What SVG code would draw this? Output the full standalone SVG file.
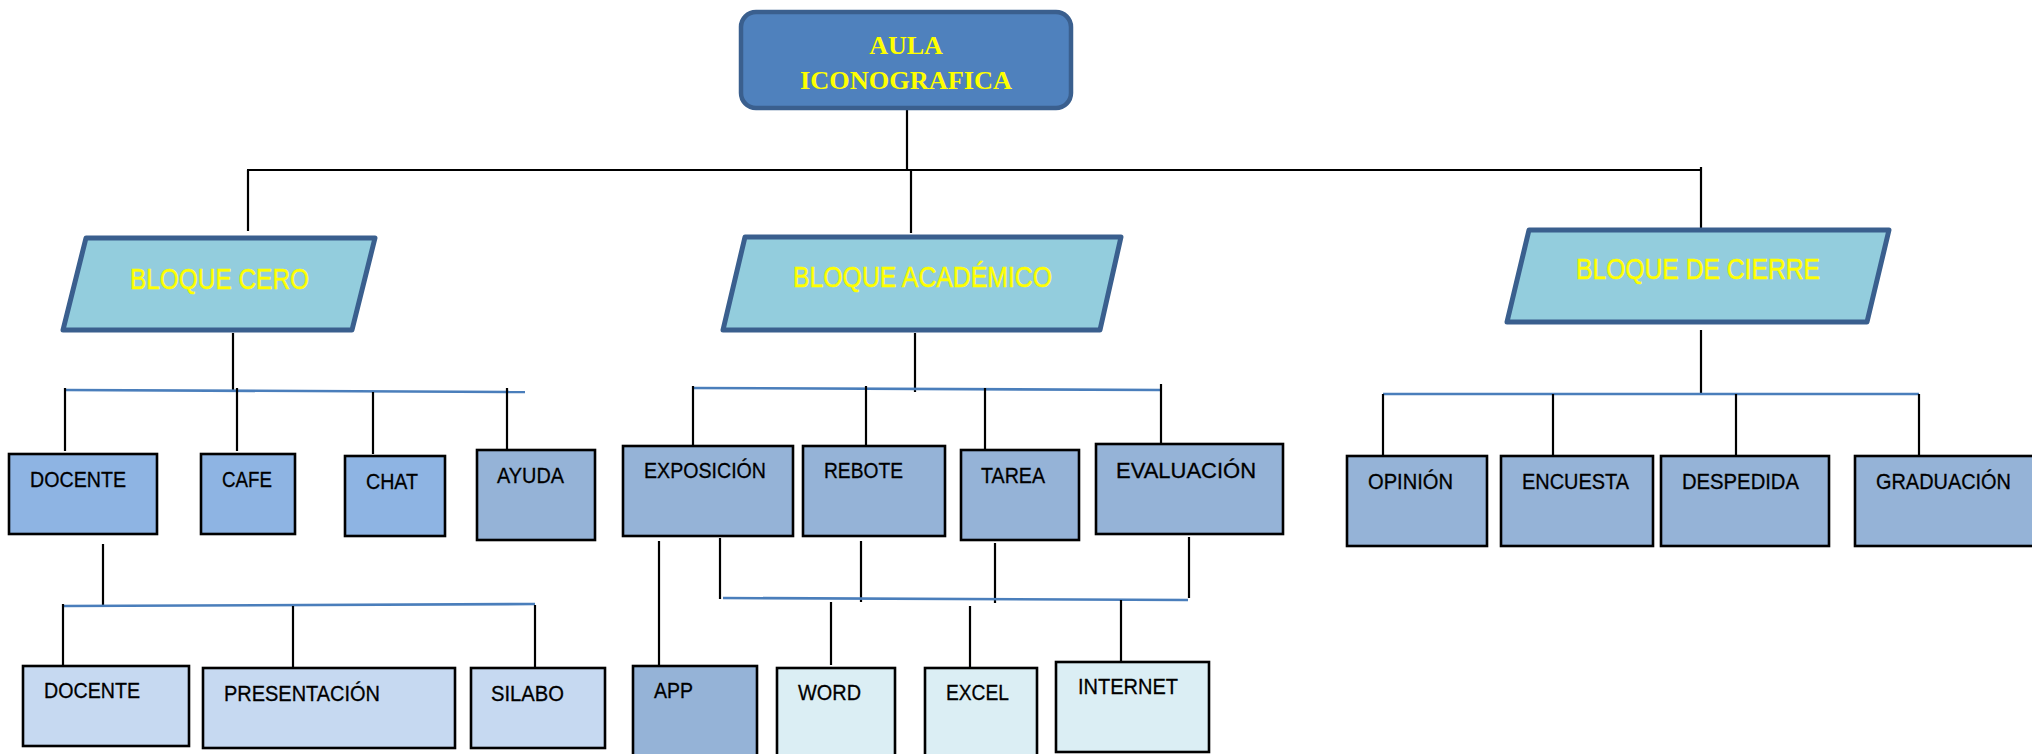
<svg xmlns="http://www.w3.org/2000/svg" width="2032" height="754" viewBox="0 0 2032 754">
  <style>
    .wire { stroke: #000; stroke-width: 2.2; fill: none; }
    .bus { stroke: #4a7ebb; stroke-width: 2.6; fill: none; }
    .root { fill: #4f81bd; stroke: #3a5f8e; stroke-width: 4.5; }
    .block { fill: #93cddd; stroke: #3a5f8e; stroke-width: 5; stroke-linejoin: round; }
    .box { stroke: #000; stroke-width: 2.6; }
    .c1 { fill: #8eb4e3; }
    .c2 { fill: #95b3d7; }
    .c3 { fill: #c6d9f1; }
    .c4 { fill: #dbeef4; }
    .title { font-family: "Liberation Serif", "Times New Roman", serif; font-weight: bold; font-size: 26px; fill: #ffff00; text-anchor: middle; }
    .blabel { font-family: "Liberation Sans", Arial, sans-serif; font-size: 30px; fill: #ffff00; stroke: #ffff00; stroke-width: 0.5; }
    .label { font-family: "Liberation Sans", Arial, sans-serif; font-size: 22px; fill: #000; stroke: #000; stroke-width: 0.3; }
  </style>

  <!-- connectors -->
  <g id="connectors">
    <!-- root to blocks -->
    <line class="wire" x1="907" y1="108" x2="907" y2="170"/>
    <line class="wire" x1="247" y1="170" x2="1701" y2="170"/>
    <line class="wire" x1="248" y1="170" x2="248" y2="231"/>
    <line class="wire" x1="911" y1="170" x2="911" y2="233"/>
    <line class="wire" x1="1701" y1="167" x2="1701" y2="229"/>

    <!-- bloque cero -->
    <line class="wire" x1="233" y1="333" x2="233" y2="391"/>
    <line class="bus" x1="65" y1="390" x2="525" y2="392"/>
    <line class="wire" x1="65" y1="388" x2="65" y2="451"/>
    <line class="wire" x1="237" y1="388" x2="237" y2="451"/>
    <line class="wire" x1="373" y1="392" x2="373" y2="454"/>
    <line class="wire" x1="507" y1="388" x2="507" y2="450"/>
    <line class="wire" x1="103" y1="544" x2="103" y2="605"/>
    <line class="bus" x1="63" y1="606" x2="535" y2="604"/>
    <line class="wire" x1="63" y1="604" x2="63" y2="666"/>
    <line class="wire" x1="293" y1="606" x2="293" y2="668"/>
    <line class="wire" x1="535" y1="605" x2="535" y2="668"/>

    <!-- bloque academico -->
    <line class="wire" x1="915" y1="333" x2="915" y2="392"/>
    <line class="bus" x1="693" y1="388" x2="1161" y2="390"/>
    <line class="wire" x1="693" y1="386" x2="693" y2="446"/>
    <line class="wire" x1="866" y1="386" x2="866" y2="447"/>
    <line class="wire" x1="985" y1="388" x2="985" y2="450"/>
    <line class="wire" x1="1161" y1="384" x2="1161" y2="445"/>
    <line class="wire" x1="659" y1="541" x2="659" y2="665"/>
    <line class="wire" x1="720" y1="538" x2="720" y2="599"/>
    <line class="wire" x1="861" y1="541" x2="861" y2="602"/>
    <line class="wire" x1="995" y1="543" x2="995" y2="603"/>
    <line class="wire" x1="1189" y1="537" x2="1189" y2="598"/>
    <line class="bus" x1="723" y1="598" x2="1188" y2="600"/>
    <line class="wire" x1="831" y1="602" x2="831" y2="665"/>
    <line class="wire" x1="970" y1="606" x2="970" y2="668"/>
    <line class="wire" x1="1121" y1="600" x2="1121" y2="662" stroke="#444"/>

    <!-- bloque de cierre -->
    <line class="wire" x1="1701" y1="330" x2="1701" y2="393"/>
    <line class="bus" x1="1383" y1="394" x2="1919" y2="394"/>
    <line class="wire" x1="1383" y1="394" x2="1383" y2="456"/>
    <line class="wire" x1="1553" y1="394" x2="1553" y2="456"/>
    <line class="wire" x1="1736" y1="394" x2="1736" y2="456"/>
    <line class="wire" x1="1919" y1="394" x2="1919" y2="456"/>
  </g>

  <!-- root -->
  <g id="aula-iconografica">
    <rect class="root" x="741" y="12" width="330" height="96" rx="15"/>
    <text class="title" x="906" y="54">AULA</text>
    <text class="title" x="906" y="89" textLength="212" lengthAdjust="spacingAndGlyphs">ICONOGRAFICA</text>
  </g>

  <!-- blocks -->
  <g id="bloque-cero">
    <polygon class="block" points="86,238 375,238 352,330 63,330"/>
    <text class="blabel" x="130" y="289" textLength="179" lengthAdjust="spacingAndGlyphs">BLOQUE CERO</text>
  </g>
  <g id="bloque-academico">
    <polygon class="block" points="745,237 1121,237 1100,330 723,330"/>
    <text class="blabel" x="793" y="287" textLength="259" lengthAdjust="spacingAndGlyphs">BLOQUE ACADÉMICO</text>
  </g>
  <g id="bloque-de-cierre">
    <polygon class="block" points="1529,230 1889,230 1867,322 1507,322"/>
    <text class="blabel" x="1576" y="279" textLength="244" lengthAdjust="spacingAndGlyphs">BLOQUE DE CIERRE</text>
  </g>

  <!-- bloque cero children -->
  <g id="docente">
    <rect class="box c1" x="9" y="454" width="148" height="80"/>
    <text class="label" x="30" y="487" textLength="96" lengthAdjust="spacingAndGlyphs">DOCENTE</text>
  </g>
  <g id="cafe">
    <rect class="box c1" x="201" y="454" width="94" height="80"/>
    <text class="label" x="222" y="487" textLength="50" lengthAdjust="spacingAndGlyphs">CAFE</text>
  </g>
  <g id="chat">
    <rect class="box c1" x="345" y="456" width="100" height="80"/>
    <text class="label" x="366" y="489" textLength="52" lengthAdjust="spacingAndGlyphs">CHAT</text>
  </g>
  <g id="ayuda">
    <rect class="box c2" x="477" y="450" width="118" height="90"/>
    <text class="label" x="497" y="483" textLength="67" lengthAdjust="spacingAndGlyphs">AYUDA</text>
  </g>

  <!-- docente children -->
  <g id="docente-perfil">
    <rect class="box c3" x="23" y="666" width="166" height="80"/>
    <text class="label" x="44" y="698" textLength="96" lengthAdjust="spacingAndGlyphs">DOCENTE</text>
  </g>
  <g id="presentacion">
    <rect class="box c3" x="203" y="668" width="252" height="80"/>
    <text class="label" x="224" y="701" textLength="156" lengthAdjust="spacingAndGlyphs">PRESENTACIÓN</text>
  </g>
  <g id="silabo">
    <rect class="box c3" x="471" y="668" width="134" height="80"/>
    <text class="label" x="491" y="701" textLength="73" lengthAdjust="spacingAndGlyphs">SILABO</text>
  </g>

  <!-- bloque academico children -->
  <g id="exposicion">
    <rect class="box c2" x="623" y="446" width="170" height="90"/>
    <text class="label" x="644" y="478" textLength="122" lengthAdjust="spacingAndGlyphs">EXPOSICIÓN</text>
  </g>
  <g id="rebote">
    <rect class="box c2" x="803" y="446" width="142" height="90"/>
    <text class="label" x="824" y="478" textLength="79" lengthAdjust="spacingAndGlyphs">REBOTE</text>
  </g>
  <g id="tarea">
    <rect class="box c2" x="961" y="450" width="118" height="90"/>
    <text class="label" x="981" y="483" textLength="64" lengthAdjust="spacingAndGlyphs">TAREA</text>
  </g>
  <g id="evaluacion">
    <rect class="box c2" x="1096" y="444" width="187" height="90"/>
    <text class="label" x="1116" y="478" font-size="24" textLength="140" lengthAdjust="spacingAndGlyphs">EVALUACIÓN</text>
  </g>

  <!-- tools -->
  <g id="app">
    <rect class="box c2" x="633" y="666" width="124" height="100"/>
    <text class="label" x="654" y="698" textLength="39" lengthAdjust="spacingAndGlyphs">APP</text>
  </g>
  <g id="word">
    <rect class="box c4" x="777" y="668" width="118" height="100"/>
    <text class="label" x="798" y="700" textLength="63" lengthAdjust="spacingAndGlyphs">WORD</text>
  </g>
  <g id="excel">
    <rect class="box c4" x="925" y="668" width="112" height="100"/>
    <text class="label" x="946" y="700" textLength="63" lengthAdjust="spacingAndGlyphs">EXCEL</text>
  </g>
  <g id="internet">
    <rect class="box c4" x="1056" y="662" width="153" height="90"/>
    <text class="label" x="1078" y="694" textLength="100" lengthAdjust="spacingAndGlyphs">INTERNET</text>
  </g>

  <!-- bloque de cierre children -->
  <g id="opinion">
    <rect class="box c2" x="1347" y="456" width="140" height="90"/>
    <text class="label" x="1368" y="489" textLength="85" lengthAdjust="spacingAndGlyphs">OPINIÓN</text>
  </g>
  <g id="encuesta">
    <rect class="box c2" x="1501" y="456" width="152" height="90"/>
    <text class="label" x="1522" y="489" textLength="107" lengthAdjust="spacingAndGlyphs">ENCUESTA</text>
  </g>
  <g id="despedida">
    <rect class="box c2" x="1661" y="456" width="168" height="90"/>
    <text class="label" x="1682" y="489" textLength="117" lengthAdjust="spacingAndGlyphs">DESPEDIDA</text>
  </g>
  <g id="graduacion">
    <rect class="box c2" x="1855" y="456" width="190" height="90"/>
    <text class="label" x="1876" y="489" textLength="135" lengthAdjust="spacingAndGlyphs">GRADUACIÓN</text>
  </g>
</svg>
